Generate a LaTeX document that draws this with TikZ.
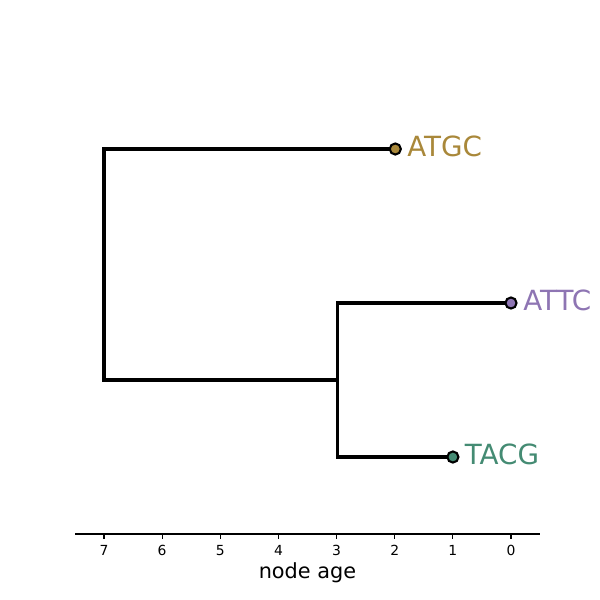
\documentclass[tikz,border=0pt]{standalone}
\usepackage{fontspec}
\setmainfont{DejaVu Sans}
\definecolor{cgold}{HTML}{A9883A}
\definecolor{cpurple}{HTML}{8E75B3}
\definecolor{cteal}{HTML}{448B73}
\tikzset{
  branch/.style={line width=2.2pt, line cap=butt, line join=miter},
  leaf/.style={circle, draw=black, line width=1.5pt, inner sep=0pt, minimum size=8pt},
  leaflabel/.style={anchor=base west, inner sep=0pt, font=\fontsize{20}{24}\selectfont},
  ticklabel/.style={anchor=base, inner sep=0pt, font=\fontsize{10}{12}\selectfont},
  axisline/.style={line width=0.9pt}
}
\begin{document}
\begin{tikzpicture}[x=0.72pt,y=-0.72pt]
\useasboundingbox (0,0) rectangle (600,600);
% positions (age a -> x = 511 - 58.143 a)
\coordinate (root) at (104,380);
\coordinate (n3) at (337.3,380);
\coordinate (pA) at (395.3,149);
\coordinate (pB) at (511,303);
\coordinate (pC) at (452.9,457);
% branches
\draw[branch] (pA) -| (root) -- (n3);
\draw[branch] (pB) -| (n3) |- (pC);
% leaves
\node[leaf, fill=cgold] (atgc) at (pA) {};
\node[leaf, fill=cpurple] (attc) at (pB) {};
\node[leaf, fill=cteal] (tacg) at (pC) {};
\node[leaflabel, text=cgold] (lA) at (407,156.5) {ATGC};
\node[leaflabel, text=cpurple] (lB) at (523,310.5) {ATTC};
\node[leaflabel, text=cteal] (lC) at (464.5,464.5) {TACG};
% axis
\coordinate (ax0) at (75,534);
\coordinate (ax1) at (540,534);
\draw[axisline] (ax0) -- (ax1);
\foreach \a in {0,...,7}{
  \pgfmathsetmacro{\xx}{511-58.143*\a}
  \coordinate (t\a) at (\xx,534);
  \draw[axisline] (t\a) -- ++(0,4.9);
  \node[ticklabel] (tl\a) at (\xx,555) {\a};
}
\node[anchor=base, inner sep=0pt, font=\fontsize{15}{18}\selectfont] (xlab) at (307.5,578) {node age};
\end{tikzpicture}
\end{document}
